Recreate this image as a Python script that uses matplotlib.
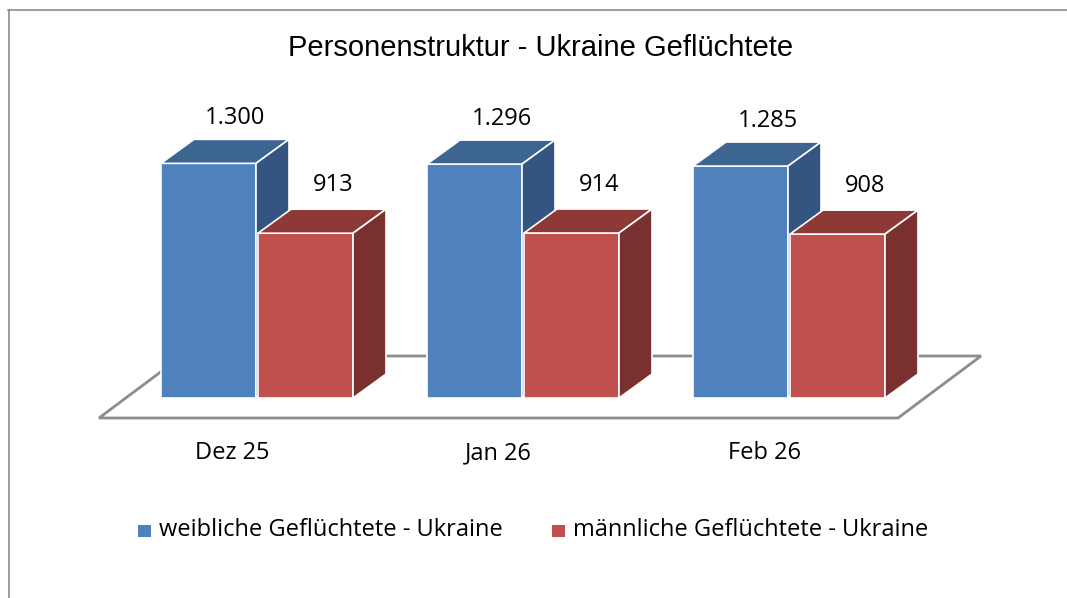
import matplotlib
matplotlib.use("Agg")
import matplotlib.pyplot as plt
from matplotlib.patches import Polygon, Rectangle
from matplotlib.lines import Line2D

# data
categories = ["Dez 25", "Jan 26", "Feb 26"]
weiblich = [1300, 1296, 1285]
maennlich = [913, 914, 908]
value_labels_w = ["1.300", "1.296", "1.285"]
value_labels_m = ["913", "914", "908"]
series_names = ["weibliche Geflüchtete - Ukraine", "männliche Geflüchtete - Ukraine"]

W, H = 1067, 598
fig = plt.figure(figsize=(W / 100, H / 100), dpi=100)
ax = fig.add_axes([0, 0, 1, 1])

# pixel scale -> data scale
px_x = 1 / 266.0          # one group per 266 px
px_y = 1 / 0.1805         # value units per px
zero_px = 398             # baseline, pixels from top
ax.set_xlim(-257 * px_x, (W - 257) * px_x)
ax.set_ylim(-(H - zero_px) * px_y, zero_px * px_y)
ax.axis("off")

bar_w = 95 * px_x
gap = 2 * px_x
dx, dy = 33 * px_x, 24 * px_y          # bar depth
fdx, fdy = 83 * px_x, 62 * px_y        # floor depth

colors = {
    "w": ("#4F81BD", "#3D6591", "#33557F"),
    "m": ("#C0504D", "#8F3937", "#7A302F"),
}

# floor
x0 = -158 * px_x
x1 = 641 * px_x
yf = -20 * px_y
floor = Polygon([(x0, yf), (x1, yf), (x1 + fdx, yf + fdy), (x0 + fdx, yf + fdy)],
                closed=True, facecolor="white", edgecolor="#8C8C8C", lw=2, zorder=1)
ax.add_patch(floor)


def bar3d(left, val, key):
    front, top, side = colors[key]
    ax.bar(left, val, width=bar_w, align="edge", color=front, edgecolor="white",
           lw=1.2, zorder=3)
    ax.add_patch(Polygon([(left, val), (left + bar_w, val), (left + bar_w + dx, val + dy),
                          (left + dx, val + dy)], closed=True, facecolor=top,
                         edgecolor="white", lw=1.2, zorder=3))
    ax.add_patch(Polygon([(left + bar_w, 0), (left + bar_w + dx, dy), (left + bar_w + dx, val + dy),
                          (left + bar_w, val)], closed=True, facecolor=side,
                         edgecolor="white", lw=1.2, zorder=3))


fnt = "Open Sans"
fs = 17
for i, cat in enumerate(categories):
    lw_ = i - bar_w - gap / 2
    lm_ = i + gap / 2
    bar3d(lw_, weiblich[i], "w")
    bar3d(lm_, maennlich[i], "m")
    ax.text(lw_ + bar_w / 2 + 27 * px_x, weiblich[i] + 45 * px_y, value_labels_w[i],
            ha="center", va="center", fontsize=fs, family=fnt, zorder=5)
    ax.text(lm_ + bar_w / 2 + 28 * px_x, maennlich[i] + 48 * px_y, value_labels_m[i],
            ha="center", va="center", fontsize=fs, family=fnt, zorder=5)
    ax.text(i - 25 * px_x, -55 * px_y, cat, ha="center", va="center",
            fontsize=fs, family=fnt)

# title
fig.text(541 / W, 1 - 48 / H, "Personenstruktur - Ukraine Geflüchtete",
         ha="center", va="center", fontsize=21, family="Liberation Sans")

# legend
for x_sq, x_txt, key, name in [(138, 159, "w", series_names[0]), (552, 573, "m", series_names[1])]:
    fig.add_artist(Rectangle((x_sq / W, 1 - 537 / H), 13 / W, 12 / H,
                             transform=fig.transFigure, facecolor=colors[key][0], lw=0))
    fig.text(x_txt / W, 1 - 530 / H, name, ha="left", va="center", fontsize=fs, family=fnt)

# chart border
fig.add_artist(Line2D([8 / W, 1], [1 - 9.5 / H, 1 - 9.5 / H], color="#8C8C8C", lw=1.2,
                      transform=fig.transFigure))
fig.add_artist(Line2D([8.5 / W, 8.5 / W], [0, 1 - 9.5 / H], color="#8C8C8C", lw=1.2,
                      transform=fig.transFigure))

fig.savefig("out.png", dpi=100)
